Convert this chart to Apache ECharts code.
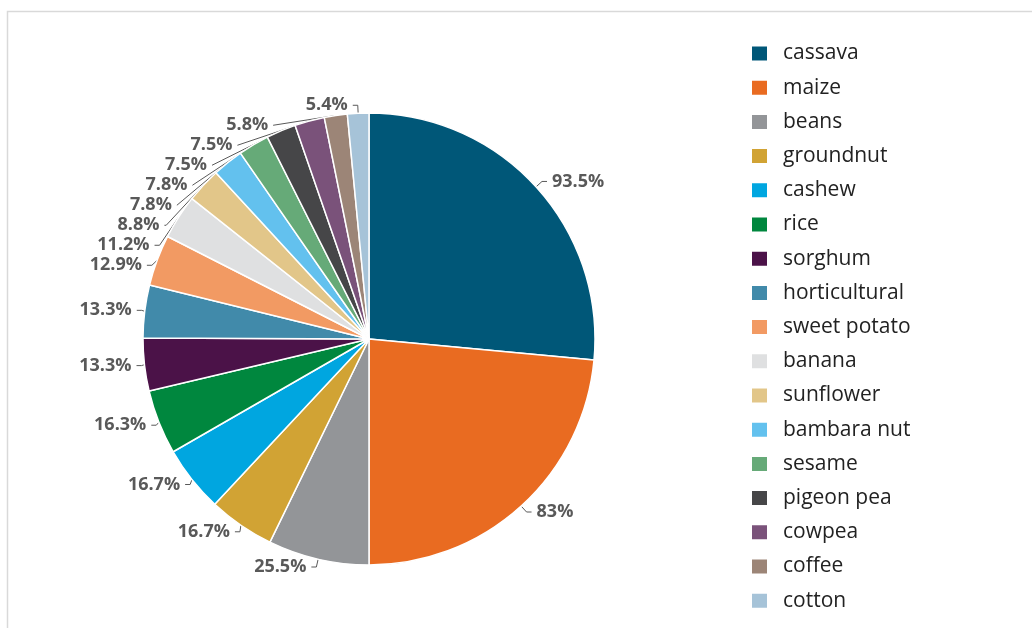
<!DOCTYPE html>
<html><head><meta charset="utf-8">
<script src="https://cdn.jsdelivr.net/npm/echarts@6/dist/echarts.min.js"></script>
<style>html,body{margin:0;padding:0;background:#fff}#c{width:1032px;height:628px}</style>
</head><body><div id="c"></div>
<script>
const categories = ["cassava","maize","beans","groundnut","cashew","rice","sorghum","horticultural","sweet potato","banana","sunflower","bambara nut","sesame","pigeon pea","cowpea","coffee","cotton"];
const values = [93.5,83,25.5,16.7,16.7,16.3,13.3,13.3,12.9,11.2,8.8,7.8,7.8,7.5,7.5,5.8,5.4];
const colors = ["#005778","#E96B21","#939598","#D1A334","#00A6E0","#00873E","#4B1248","#418AAA","#F29A63","#DFE0E1","#E2C689","#63C1EE","#66AA78","#464648","#7A527A","#9C8577","#A6C3D8"];
const chart = echarts.init(document.getElementById('c'));
chart.setOption({
  animation:false,
  color: colors,
  graphic:[{type:'rect',shape:{x:7.5,y:11.5,width:1200,height:800},style:{fill:'none',stroke:'#d9d9d9',lineWidth:1.5},silent:true}],
  legend:{orient:'vertical',left:750,top:43,padding:0,itemWidth:17,itemHeight:16,itemGap:13.2,icon:'rect',
    textStyle:{fontFamily:'Open Sans',fontSize:21,color:'#222',lineHeight:20,padding:[0,0,0,10]},
    data:categories},
  series:[{type:'pie',center:[369,339],radius:226,startAngle:90,clockwise:true,
    itemStyle:{borderColor:'#fff',borderWidth:1.5},
    label:{show:true,formatter:'{c}%',fontFamily:'Open Sans',fontWeight:'bold',fontSize:18,color:'#595959'},
    labelLine:{show:true,length:8,length2:5,lineStyle:{color:'#595959',width:1}},
    data: categories.map((n,i)=>({name:n,value:values[i]}))
  }]
});
</script></body></html>
